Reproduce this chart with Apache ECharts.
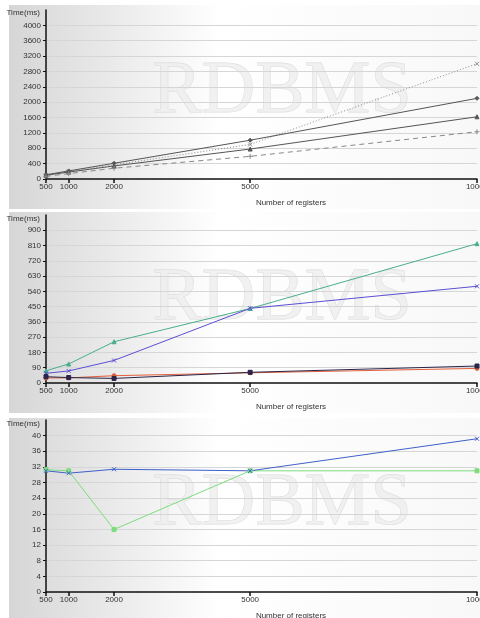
<!DOCTYPE html>
<html>
<head>
<meta charset="utf-8">
<script src="https://cdn.jsdelivr.net/npm/echarts@6/dist/echarts.min.js"></script>
<style>
html,body{margin:0;padding:0;background:#fff;}
#c{width:480px;height:618px;}
</style>
</head>
<body>
<div id="c"></div>
<script>
// ---- data ----
const xValues = [500, 1000, 2000, 5000, 10000];

// Panel 1 (grey series)
const p1Dotted   = [100, 190, 370, 900, 3000];
const p1Diamond  = [110, 210, 410, 1010, 2100];
const p1Triangle = [100, 180, 340, 780, 1620];
const p1Plus     = [70, 140, 280, 590, 1230];
const p1Ticks = { max: 4400, interval: 400 };

// Panel 2 (colour series)
const p2Green  = [72, 112, 243, 439, 821];
const p2Purple = [57, 71, 133, 440, 570];
const p2Red    = [30, 30, 43, 60, 86];
const p2Navy   = [37, 32, 27, 63, 100];
const p2Ticks = { max: 990, interval: 90 };

// Panel 3
const p3Blue  = [31, 30.4, 31.4, 31, 39.2];
const p3Green = [31.3, 31, 16, 31, 31];
const p3Ticks = { max: 44, interval: 4 };

const yTitle = 'Time(ms)';
const xTitle = 'Number of registers';
const watermark = 'RDBMS';

// ---- build ----
const FONT = 'Liberation Sans';
const SYM_X = 'path://M0,0L10,10M10,0L0,10';
const SYM_PLUS = 'path://M5,0L5,10M0,5L10,5';

function pts(arr) { return xValues.map((x, i) => [x, arr[i]]); }

const grids = [
  { left: 46, right: 3, top: 10, bottom: 439, outerBoundsMode: 'none', containLabel: false },
  { left: 46, right: 3, top: 215, bottom: 235, outerBoundsMode: 'none', containLabel: false },
  { left: 46, right: 3, top: 420, bottom: 26, outerBoundsMode: 'none', containLabel: false }
];
const ticks = [p1Ticks, p2Ticks, p3Ticks];
const plain = v => String(v);

const xAxes = grids.map((g, i) => ({
  type: 'value', gridIndex: i, min: 500, max: 10000,
  axisLine: { show: true, onZero: false, lineStyle: { color: '#111', width: 1.5 } },
  axisTick: { show: true, length: 4, customValues: xValues, lineStyle: { color: '#111', width: 1.5 } },
  axisLabel: { customValues: xValues, formatter: plain, fontFamily: FONT, fontSize: 8, color: '#333', margin: 4, hideOverlap: false },
  splitLine: { show: false }
}));

const yAxes = ticks.map((t, i) => ({
  type: 'value', gridIndex: i, min: 0, max: t.max, interval: t.interval,
  axisLine: { show: true, lineStyle: { color: '#111', width: 1.5 } },
  axisTick: { show: true, length: 3, lineStyle: { color: '#111', width: 1 } },
  axisLabel: { formatter: plain, fontFamily: FONT, fontSize: 8, color: '#333', margin: 5, showMaxLabel: false },
  splitLine: { show: true, showMaxLine: false, showMinLine: false, lineStyle: { color: '#d6d6d6', width: 1 } }
}));

function line(idx, data, color, symbol, size, type, lw) {
  return {
    type: 'line', xAxisIndex: idx, yAxisIndex: idx, data: pts(data),
    symbol: symbol, symbolSize: size, showSymbol: true,
    lineStyle: { color: color, width: lw || 1, type: type || 'solid' },
    itemStyle: { color: color, borderColor: color, borderWidth: 1 },
    emphasis: { disabled: true }, animation: false, z: 3
  };
}

const series = [
  line(0, p1Dotted, '#8a8a8a', SYM_X, 4, [1, 2]),
  line(0, p1Diamond, '#555', 'diamond', 4),
  line(0, p1Triangle, '#555', 'triangle', 4),
  line(0, p1Plus, '#888', SYM_PLUS, 5, [5, 4]),
  line(1, p2Green, '#4aae8c', 'triangle', 4),
  line(1, p2Purple, '#5b4fd6', SYM_X, 4),
  line(1, p2Red, '#e4603c', 'circle', 4),
  line(1, p2Navy, '#2a2448', 'rect', 4),
  line(2, p3Green, '#7ddc7d', 'rect', 4),
  line(2, p3Blue, '#4060cc', SYM_X, 4)
];

const panels = [
  { top: 5, h: 204, title: 13, xt: 203, wm: 93 },
  { top: 212, h: 201, title: 219, xt: 407, wm: 300 },
  { top: 418, h: 200, title: 424, xt: 616, wm: 505 }
];

const graphic = [];
panels.forEach(p => {
  graphic.push({
    type: 'rect', left: 9, top: p.top, z: -10, silent: true,
    shape: { width: 471, height: p.h },
    style: {
      fill: new echarts.graphic.LinearGradient(0, 0, 1, 0, [
        { offset: 0, color: '#d6d6d6' },
        { offset: 0.45, color: '#ffffff' },
        { offset: 1, color: '#f8f8f8' }
      ])
    }
  });
  graphic.push({
    type: 'text', x: 282, y: p.wm, z: -5, silent: true,
    style: {
      text: watermark, font: '74px "Liberation Serif"', fill: 'rgba(238,238,238,0.8)',
      stroke: 'rgba(205,205,205,0.7)', lineWidth: 0.8, align: 'center', verticalAlign: 'middle',
      shadowColor: 'rgba(0,0,0,0.10)', shadowBlur: 4, shadowOffsetX: 2, shadowOffsetY: 3
    }
  });
  graphic.push({
    type: 'text', x: 40, y: p.title, z: 5, silent: true,
    style: { text: yTitle, font: '8px "' + FONT + '"', fill: '#333', align: 'right', verticalAlign: 'middle' }
  });
  graphic.push({
    type: 'text', x: 291, y: p.xt, z: 5, silent: true,
    style: { text: xTitle, font: '8px "' + FONT + '"', fill: '#333', align: 'center', verticalAlign: 'middle' }
  });
});

const chart = echarts.init(document.getElementById('c'), null, { renderer: 'canvas' });
chart.setOption({
  animation: false,
  backgroundColor: '#fff',
  grid: grids,
  xAxis: xAxes,
  yAxis: yAxes,
  series: series,
  graphic: graphic
});
</script>
</body>
</html>
